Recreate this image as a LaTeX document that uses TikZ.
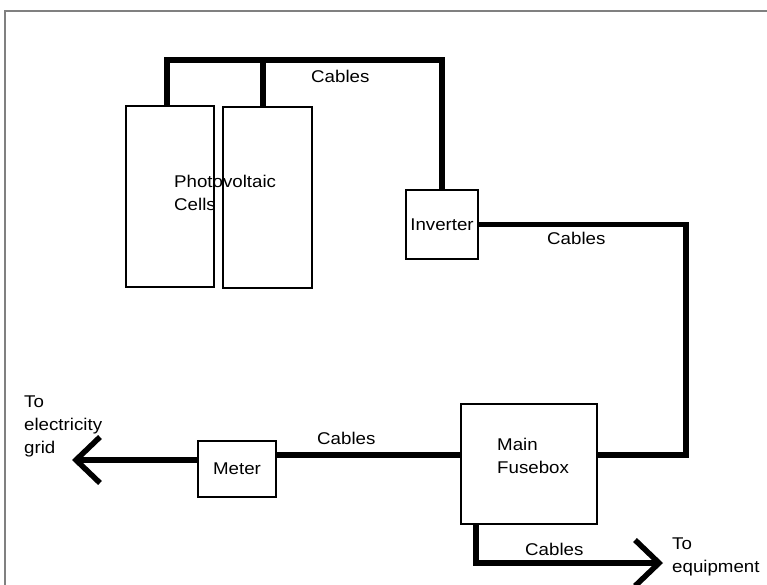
\documentclass[tikz,border=0pt]{standalone}
\usepackage{fontspec}
\setmainfont{Liberation Sans}[FakeStretch=1.1]
\usetikzlibrary{arrows.meta}

\begin{document}
\begin{tikzpicture}[
  x=1bp, y=-1bp,
  font=\fontsize{17bp}{23bp}\selectfont,
  unit/.style={draw, line width=1.1bp, inner sep=0pt},
  cable/.style={line width=5.5bp, line join=miter},
  outflow/.style={cable, -{Straight Barb[length=24bp,width=46bp]}},
  txt/.style={anchor=base west, inner sep=0pt, align=left}
]
\useasboundingbox (0,0) rectangle (767,585);
\draw[black!50, line width=1.3bp] (5,585) -- (5,11) -- (767,11);

% panels, inverter, fusebox, meter
\node[unit, minimum width=88bp, minimum height=181bp] (pv1) at (170,196.5) {};
\node[unit, minimum width=89bp, minimum height=181bp] (pv2) at (267.5,197.5) {};
\node[unit, minimum width=72bp, minimum height=69bp] (inv) at (442,224.5) {Inverter};
\node[unit, minimum width=136bp, minimum height=120bp] (fuse) at (529,464) {};
\node[unit, minimum width=78bp, minimum height=56bp] (meter) at (237,469) {Meter};

\coordinate (busL) at (167,60);
\coordinate (busM) at (263,60);
\coordinate (busR) at (442,60);
\coordinate (trunk) at (686,455);
\coordinate (grid) at (72,460);
\coordinate (drop) at (476,563);
\coordinate (equip) at (663,563);

% cables
\draw[cable] (pv1.north -| busL) -- (busL) -- (busR) -- (inv.north);
\draw[cable] (busM) -- (pv2.north -| busM);
\draw[cable] (inv.east) -| (trunk) -- (trunk -| fuse.east);
\draw[cable] (trunk -| fuse.west) -- (trunk -| meter.east);
\draw[outflow] (meter.west |- grid) -- (grid);
\draw[outflow] (fuse.south -| drop) -- (drop) -- (equip);

% labels (base = last line)
\node[txt] (pvtext) at (174,211) {Photovoltaic\\Cells};
\node[txt] (c1) at (311,83) {Cables};
\node[txt] (c2) at (547,244) {Cables};
\node[txt] (c3) at (317,444) {Cables};
\node[txt] (c4) at (525,555) {Cables};
\node[txt] (fusetext) at (497,473) {Main\\Fusebox};
\node[txt] (gridtext) at (24,453) {To\\electricity\\grid};
\node[txt] (equiptext) at (672,572) {To\\equipment};
\end{tikzpicture}
\end{document}
